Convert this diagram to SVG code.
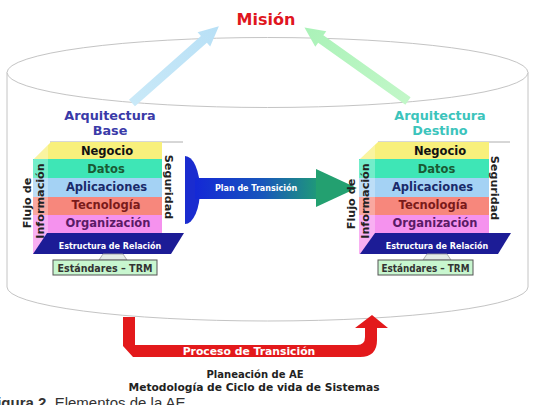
<svg xmlns="http://www.w3.org/2000/svg" width="533" height="405" viewBox="0 0 533 405">
  <defs>
    <style>
      .b { font-family: "DejaVu Sans", Verdana, sans-serif; font-weight: bold; }
      .mid { text-anchor: middle; }
      .rot { text-anchor: middle; dominant-baseline: central; }
      .layer { font-size: 11.5px; }
      .side { font-size: 11.2px; fill: #222; }
      .title { font-size: 12.8px; }
      .edge { stroke: #9a9a9a; stroke-width: 0.8; fill: none; }
      .negocio { fill: #f8f07c; }
      .datos { fill: #3ee6b6; }
      .aplic { fill: #a4d2f4; }
      .tecno { fill: #f7877c; }
      .organ { fill: #f592ee; }
      .estructura { fill: #1c1c96; }
      .estructura-t { font-size: 8px; fill: #ffffff; }
      .std-box { fill: #c8f6cf; stroke: #555555; stroke-width: 1; }
      .std-tab { fill: #e4ece6; stroke: #9a9a9a; stroke-width: 0.8; }
      .std-t { font-size: 9.6px; fill: #333333; }
      .strip { fill: #ffffff; opacity: 0.28; }
    </style>
    <linearGradient id="planGrad" x1="0" y1="0" x2="1" y2="0">
      <stop offset="0" stop-color="#1428d6"/>
      <stop offset="0.55" stop-color="#1856bc"/>
      <stop offset="1" stop-color="#1f9a78"/>
    </linearGradient>
    <linearGradient id="blueArrow" x1="0" y1="0" x2="1" y2="0">
      <stop offset="0" stop-color="#c9e9f8"/>
      <stop offset="1" stop-color="#b8e0f6"/>
    </linearGradient>
    <linearGradient id="greenArrow" x1="0" y1="0" x2="1" y2="0">
      <stop offset="0" stop-color="#c2f7c8"/>
      <stop offset="1" stop-color="#aaf2b8"/>
    </linearGradient>
  </defs>

  <rect width="533" height="405" fill="#ffffff"/>

  <!-- cylinder container -->
  <g id="cilindro">
    <path d="M7,72.5 L7,287 A260.5,34 0 0 0 528,287 L528,72.5" fill="#ffffff" stroke="#c4c4c4" stroke-width="1"/>
    <ellipse cx="267.5" cy="72.5" rx="260.5" ry="35" fill="#ffffff" stroke="#c4c4c4" stroke-width="1"/>
  </g>

  <!-- connectors -->
  <g id="conectores">
    <!-- base architecture to mission -->
    <polygon transform="translate(132,103) rotate(-41.5)" fill="url(#blueArrow)"
             points="0,-4.5 96,-4.5 96,-9.5 116,0 96,9.5 96,4.5 0,4.5"/>
    <!-- target architecture to mission -->
    <polygon transform="translate(408,101) rotate(-144.6)" fill="url(#greenArrow)"
             points="0,-4.5 107,-4.5 107,-9.5 127,0 107,9.5 107,4.5 0,4.5"/>

    <!-- transition plan -->
    <g id="plan-transicion">
      <path d="M185,156 A15,34 0 0 1 185,224 Z" fill="#1a2ccf"/>
      <rect x="195" y="178" width="123" height="21" fill="url(#planGrad)"/>
      <polygon points="316,169 357,188 316,207" fill="#23a070"/>
      <text class="b mid" x="256" y="191" font-size="8" fill="#ffffff">Plan de Transición</text>
    </g>

    <!-- transition process -->
    <g id="proceso-transicion">
      <path d="M123,317 L135,317 L135,345 L357,345 Q365,345 365,337 L365,328 L355,328 L372,315 L388,328 L377,328 L377,340 Q377,357 360,357 L133,357 L123,346 Z" fill="#e3191b"/>
      <text class="b mid" x="249" y="355" font-size="10.8" fill="#ffffff">Proceso de Transición</text>
    </g>
  </g>

  <!-- mission -->
  <g id="mision">
    <text class="b mid" x="266" y="25" font-size="16" fill="#e0161e">Misión</text>
  </g>

  <!-- base architecture -->
  <g id="arquitectura-base">
    <text class="b mid title" x="110" y="120" fill="#3a3aa8">Arquitectura</text>
    <text class="b mid title" x="110" y="135" fill="#3a3aa8">Base</text>
    <line class="edge" x1="50" y1="142" x2="183" y2="142"/>
    <polygon class="negocio" points="51,142 162,142 162,160 33,160"/>
    <rect class="datos" x="33" y="159" width="129" height="19"/>
    <rect class="aplic" x="33" y="178" width="129" height="19"/>
    <rect class="tecno" x="33" y="197" width="129" height="18"/>
    <rect class="organ" x="33" y="215" width="129" height="18"/>
    <rect class="organ" x="33" y="233" width="15" height="21"/>
    <polygon class="strip" points="33,160 48,145 48,254 33,254"/>
    <polygon class="estructura" points="47,233 184,233 171,254 33,254"/>
    <text class="b mid layer" x="107" y="155" fill="#111111">Negocio</text>
    <text class="b mid layer" x="106" y="173" fill="#1a5a34">Datos</text>
    <text class="b mid layer" x="106.5" y="191" fill="#1a2a6a">Aplicaciones</text>
    <text class="b mid layer" x="106" y="209" fill="#7a1a1a">Tecnología</text>
    <text class="b mid layer" x="108" y="227" fill="#5a1a66">Organización</text>
    <text class="b mid estructura-t" x="110" y="248.5">Estructura de Relación</text>
    <text class="b rot side" transform="translate(27,203) rotate(-90)">Flujo de</text>
    <text class="b rot side" transform="translate(40,201) rotate(-90)" fill="#4a1446">Información</text>
    <text class="b rot side" transform="translate(168,187) rotate(90)">Seguridad</text>
    <polygon class="std-tab" points="103,254 123,254 127,260 99,260"/>
    <rect class="std-box" x="53" y="260" width="104" height="15"/>
    <text class="b mid std-t" x="105" y="272" textLength="95" lengthAdjust="spacingAndGlyphs">Estándares – TRM</text>
  </g>

  <!-- target architecture -->
  <g id="arquitectura-destino">
    <text class="b mid title" x="440" y="120" fill="#3cc4bc">Arquitectura</text>
    <text class="b mid title" x="440" y="135" fill="#3cc4bc">Destino</text>
    <line class="edge" x1="378" y1="142" x2="510" y2="142"/>
    <polygon class="negocio" points="378,142 489,142 489,160 359,160"/>
    <rect class="datos" x="359" y="159" width="130" height="19"/>
    <rect class="aplic" x="359" y="178" width="130" height="19"/>
    <rect class="tecno" x="359" y="197" width="130" height="18"/>
    <rect class="organ" x="359" y="215" width="130" height="18"/>
    <rect class="organ" x="359" y="233" width="17" height="21"/>
    <polygon class="strip" points="359,160 375,145 375,254 359,254"/>
    <polygon class="estructura" points="375,233 511,233 498,254 360,254"/>
    <text class="b mid layer" x="440" y="155" fill="#111111">Negocio</text>
    <text class="b mid layer" x="436.5" y="173" fill="#1a5a34">Datos</text>
    <text class="b mid layer" x="432.5" y="191" fill="#1a2a6a">Aplicaciones</text>
    <text class="b mid layer" x="433" y="209" fill="#7a1a1a">Tecnología</text>
    <text class="b mid layer" x="435" y="227" fill="#5a1a66">Organización</text>
    <text class="b mid estructura-t" x="437" y="248.5">Estructura de Relación</text>
    <text class="b rot side" transform="translate(351,204) rotate(-90)">Flujo de</text>
    <text class="b rot side" transform="translate(365,201) rotate(-90)" fill="#4a1446">Información</text>
    <text class="b rot side" transform="translate(494,188) rotate(90)">Seguridad</text>
    <polygon class="std-tab" points="427,254 447,254 451,260 423,260"/>
    <rect class="std-box" x="378" y="260" width="95" height="15"/>
    <text class="b mid std-t" x="425.5" y="272" textLength="88" lengthAdjust="spacingAndGlyphs">Estándares – TRM</text>
  </g>

  <!-- planning labels -->
  <g id="planeacion">
    <text class="b mid" x="255" y="378" font-size="10" fill="#222222" textLength="97" lengthAdjust="spacingAndGlyphs">Planeación de AE</text>
    <text class="b mid" x="254" y="391" font-size="10.5" fill="#222222" textLength="251" lengthAdjust="spacingAndGlyphs">Metodología de Ciclo de vida de Sistemas</text>
  </g>

  <!-- figure caption -->
  <text x="-12" y="408" font-family="'Liberation Sans', Arial, sans-serif" font-size="15" fill="#333333"><tspan font-weight="bold">Figura 2.</tspan> Elementos de la AE</text>
</svg>
